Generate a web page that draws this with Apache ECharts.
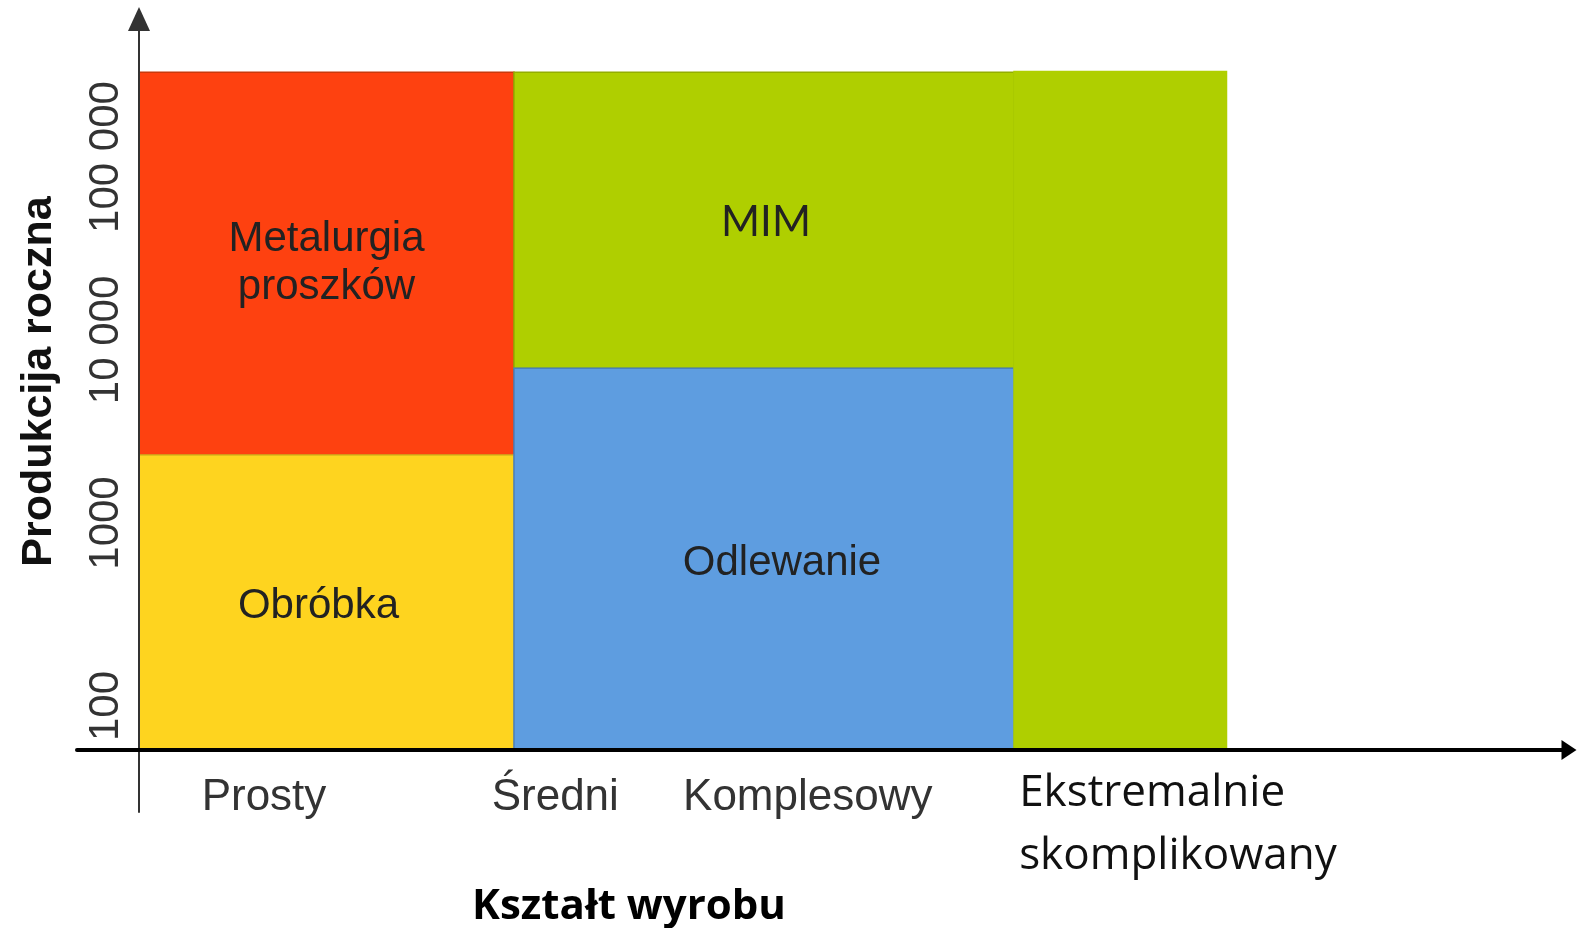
<!DOCTYPE html>
<html>
<head lang="pl">
    <meta http-equiv="Content-Type" content="text/html; charset=UTF-8">
    <script src="https://cdn.jsdelivr.net/npm/echarts@6/dist/echarts.min.js"></script>
    <style>
        html, body {margin:0; padding:0; background:#fff;}
        #container {width:1578px; height:928px;}
    </style>
</head>
<body>
<div id="container"></div>
<script>
/**=======数据=====**/
// obszary technologii: kształt (od-do) x produkcja roczna (od-do)
var regionNames = ['Metalurgia\nproszków', 'Obróbka', 'MIM', 'Odlewanie', ''];
var regionXStart = [0, 0, 3, 3, 7];
var regionXEnd = [3, 3, 7, 7, 8.7];
var regionYLow = [2350, 57.5, 7000, 57.5, 57.5];
var regionYHigh = [290000, 2350, 290000, 7000, 293000];

// opisy osi X (kształt wyrobu)
var shapeLabelValues = [1.0, 3.33, 5.35, 8.385];
var shapeLabels = ['Prosty', 'Średni', 'Komplesowy', 'Ekstremalnie\nskomplikowany'];

// opisy osi Y (skala logarytmiczna)
var volumeTickValues = [100, 1000, 10000, 100000];
var volumeTickLabels = ['100', '1000', '10 000', '100 000'];

/**=======样式=====**/
var regionColors = ['#FE4110', '#FED41F', '#AFCF00', '#5E9DE0', '#AFCF00'];
var regionBorders = ['#C9390D', '#D9B41B', '#93AE00', '#4B80BC', '#AFCF00'];
var regionFonts = ['Liberation Sans', 'Liberation Sans', 'Lato', 'Liberation Sans', 'Liberation Sans'];
var regionTextOffsets = [[0, 0], [-8, 4], [2, 2], [18, 4], [0, 0]];

var regionData = [];
for (var i = 0; i < regionNames.length; i++) {
    regionData.push([regionXStart[i], regionXEnd[i], regionYLow[i], regionYHigh[i]]);
}

var myChart = echarts.init(document.getElementById('container'));

var option = {
    animation: false,
    backgroundColor: '#fff',
    grid: {
        left: 77,
        right: 9,
        top: 19,
        bottom: 116,
        outerBoundsMode: 'none'
    },
    xAxis: {
        type: 'value',
        min: -0.496,
        max: 11.44,
        offset: -62,
        z: 5,
        axisLine: {
            show: true,
            onZero: false,
            symbol: ['none', 'triangle'],
            symbolSize: [20, 15],
            lineStyle: {color: '#000', width: 4}
        },
        axisTick: {show: false},
        splitLine: {show: false},
        axisLabel: {
            customValues: shapeLabelValues,
            margin: 18,
            formatter: function (value) {
                for (var i = 0; i < shapeLabelValues.length; i++) {
                    if (Math.abs(shapeLabelValues[i] - value) < 1e-6) {
                        var text = shapeLabels[i];
                        if (text.indexOf('\n') >= 0) {
                            return text.split('\n').map(function (t, k) {
                                return (k === 0 ? '{e1|' : '{e2|') + t + '}';
                            }).join('\n');
                        }
                        return '{a|' + text + '}';
                    }
                }
                return '';
            },
            rich: {
                a: {fontFamily: 'Liberation Sans', fontSize: 44, color: '#333', lineHeight: 60},
                e1: {fontFamily: 'Open Sans', fontSize: 44, color: '#111', lineHeight: 50, width: 336, align: 'left'},
                e2: {fontFamily: 'Open Sans', fontSize: 44, color: '#111', lineHeight: 76, width: 336, align: 'left'}
            }
        },
        name: 'Kształt wyrobu',
        nameLocation: 'middle',
        nameGap: 136,
        nameMoveOverlap: false,
        nameTextStyle: {
            fontFamily: 'Open Sans',
            fontWeight: 'bold',
            fontSize: 42,
            color: '#000',
            padding: [0, 388, 0, 0]
        }
    },
    yAxis: {
        type: 'log',
        logBase: 10,
        min: 26.35,
        max: 567500,
        z: 5,
        axisLine: {
            show: true,
            onZero: true,
            symbol: ['none', 'triangle'],
            symbolSize: [22, 24],
            lineStyle: {color: '#333', width: 2}
        },
        axisTick: {show: false},
        splitLine: {show: false},
        minorTick: {show: false},
        minorSplitLine: {show: false},
        axisLabel: {
            rotate: 90,
            margin: -50,
            fontFamily: 'Liberation Sans',
            fontSize: 42,
            color: '#333',
            showMinLabel: false,
            showMaxLabel: false,
            formatter: function (value) {
                for (var i = 0; i < volumeTickValues.length; i++) {
                    if (Math.abs(volumeTickValues[i] - value) / volumeTickValues[i] < 1e-6) {
                        return volumeTickLabels[i];
                    }
                }
                return '';
            }
        },
        name: 'Produkcija roczna',
        nameLocation: 'middle',
        nameGap: 16,
        nameMoveOverlap: false,
        nameTextStyle: {
            fontFamily: 'Liberation Sans',
            fontWeight: 'bold',
            fontSize: 43,
            color: '#111',
            padding: [0, 0, 0, 68]
        }
    },
    series: [{
        type: 'custom',
        silent: true,
        encode: {x: [0, 1], y: [2, 3]},
        data: regionData,
        renderItem: function (params, api) {
            var idx = params.dataIndex;
            var topLeft = api.coord([api.value(0), api.value(3)]);
            var bottomRight = api.coord([api.value(1), api.value(2)]);
            return {
                type: 'rect',
                shape: {
                    x: topLeft[0],
                    y: topLeft[1],
                    width: bottomRight[0] - topLeft[0],
                    height: bottomRight[1] - topLeft[1]
                },
                style: {
                    fill: regionColors[idx],
                    stroke: regionBorders[idx],
                    lineWidth: 1.5
                },
                textContent: {
                    style: {
                        text: regionNames[idx],
                        fontFamily: regionFonts[idx],
                        fontSize: 42,
                        lineHeight: 48,
                        fill: '#222',
                        align: 'center',
                        verticalAlign: 'middle'
                    }
                },
                textConfig: {position: 'inside', offset: regionTextOffsets[idx]}
            };
        }
    }]
};
myChart.setOption(option);
</script>
</body>
</html>
